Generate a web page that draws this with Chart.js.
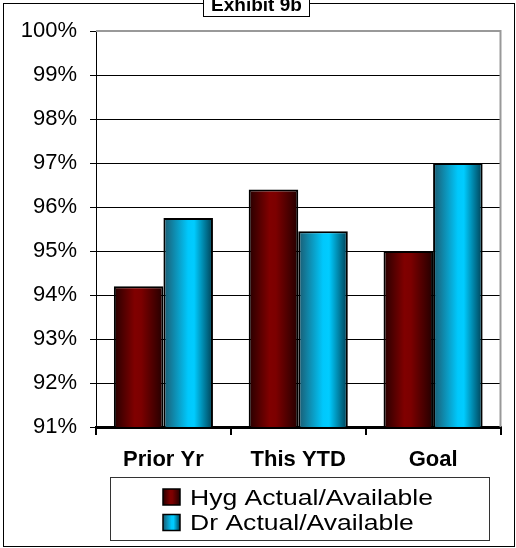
<!DOCTYPE html>
<html>
<head>
<meta charset="utf-8">
<script src="https://cdn.jsdelivr.net/npm/chart.js@4.4.1/dist/chart.umd.min.js"></script>
<style>
  body { margin: 0; background: #fff; }
  canvas { display: block; }
</style>
</head>
<body>
<canvas id="exhibit" width="516" height="548"></canvas>
<script>
const categories = ['Prior Yr', 'This YTD', 'Goal'];
const hygValues = [94.2, 96.4, 95.0];
const drValues = [95.75, 95.45, 97.0];
const seriesNames = ['Hyg Actual/Available', 'Dr Actual/Available'];
const chartTitle = 'Exhibit 9b';

const AXIS_FONT = '"Liberation Sans", Arial, sans-serif';

// left-to-right shading for each series (dark edge, bright middle, dark edge)
const shades = [
  [[0, '#260000'], [0.42, '#800000'], [0.55, '#7c0000'], [1, '#220000']],
  [[0, '#1b5a70'], [0.5, '#00c8fc'], [0.62, '#00ccff'], [1, '#003e52']]
];

function shade(ctx, x0, x1, i) {
  const g = ctx.createLinearGradient(x0, 0, x1, 0);
  shades[i].forEach(s => g.addColorStop(s[0], s[1]));
  return g;
}

// paints the gradient onto each bar once positions are known
const barShading = {
  id: 'barShading',
  beforeDatasetsDraw(chart) {
    const ctx = chart.ctx;
    chart.data.datasets.forEach((ds, i) => {
      chart.getDatasetMeta(i).data.forEach(bar => {
        bar.options.backgroundColor = shade(ctx, bar.x - bar.width / 2, bar.x + bar.width / 2, i);
      });
    });
    // gray frame on top/right of the plot area
    const a = chart.chartArea;
    ctx.save();
    ctx.strokeStyle = '#999';
    ctx.lineWidth = 2;
    ctx.beginPath();
    ctx.moveTo(a.left, a.top);
    ctx.lineTo(a.right, a.top);
    ctx.lineTo(a.right, a.bottom);
    ctx.stroke();
    ctx.restore();
  }
};

// outer frame, title box and boxed legend
const frame = {
  id: 'frame',
  beforeDraw(chart) {
    const ctx = chart.ctx;
    ctx.save();
    ctx.fillStyle = '#fff';
    ctx.fillRect(0, 0, chart.width, chart.height);
    ctx.strokeStyle = '#000';
    ctx.lineWidth = 1;
    ctx.strokeRect(3.5, 3.5, 511, 543);
    ctx.restore();
  },
  afterDraw(chart) {
    const ctx = chart.ctx;
    ctx.save();

    // title
    ctx.fillStyle = '#fff';
    ctx.fillRect(203, -2, 107, 19);
    ctx.strokeStyle = '#000';
    ctx.lineWidth = 1;
    ctx.strokeRect(203.5, -2, 106, 18.5);
    ctx.fillStyle = '#000';
    ctx.font = 'bold 19px ' + AXIS_FONT;
    ctx.textAlign = 'center';
    ctx.textBaseline = 'alphabetic';
    ctx.fillText(chartTitle, 256.5, 10.5);

    // legend
    ctx.strokeStyle = '#333';
    ctx.strokeRect(110.5, 477.5, 379, 63);
    ctx.textAlign = 'left';
    chart.data.datasets.forEach((ds, i) => {
      const y = 489 + i * 25.5;
      ctx.fillStyle = shade(ctx, 163, 180, i);
      ctx.fillRect(163, y, 17, 16);
      ctx.strokeStyle = '#000';
      ctx.lineWidth = 1.5;
      ctx.strokeRect(163, y, 17, 16);
      // legend text is set a little wide
      ctx.save();
      ctx.translate(190, y + 15.5);
      ctx.scale(1.18, 1);
      ctx.font = '22.5px ' + AXIS_FONT;
      ctx.fillStyle = '#000';
      ctx.fillText(ds.label, 0, 0);
      ctx.restore();
    });
    ctx.restore();
  }
};

new Chart(document.getElementById('exhibit'), {
  type: 'bar',
  data: {
    labels: categories,
    datasets: [
      {
        label: seriesNames[0],
        data: hygValues,
        backgroundColor: () => '#800000',
        borderColor: '#000',
        borderWidth: 2
      },
      {
        label: seriesNames[1],
        data: drValues,
        backgroundColor: () => '#00ccff',
        borderColor: '#000',
        borderWidth: 2
      }
    ]
  },
  options: {
    responsive: false,
    animation: false,
    categoryPercentage: 0.735,
    barPercentage: 1.0,
    layout: {
      padding: { top: 31, right: 15.5, bottom: 71, left: 0 }
    },
    scales: {
      x: {
        afterFit: scale => { scale.height = 50; },
        grid: {
          display: true,
          drawOnChartArea: false,
          drawTicks: true,
          tickLength: 8,
          color: '#000',
          lineWidth: 2
        },
        border: { color: '#000', width: 3 },
        ticks: {
          color: '#000',
          padding: 12,
          font: { family: AXIS_FONT, size: 22, weight: 'bold' }
        }
      },
      y: {
        min: 91,
        max: 100,
        afterFit: scale => { scale.width = 96; },
        grid: {
          color: c => (c.tick && c.tick.value === 100 ? '#999' : '#000'),
          tickColor: '#000',
          tickLength: 6,
          lineWidth: 1
        },
        border: { color: '#000', width: 1 },
        ticks: {
          stepSize: 1,
          color: '#000',
          padding: 13,
          font: { family: AXIS_FONT, size: 22 },
          callback: v => v + '%'
        }
      }
    },
    plugins: {
      legend: { display: false },
      title: { display: false },
      tooltip: { enabled: false }
    }
  },
  plugins: [barShading, frame]
});
</script>
</body>
</html>
